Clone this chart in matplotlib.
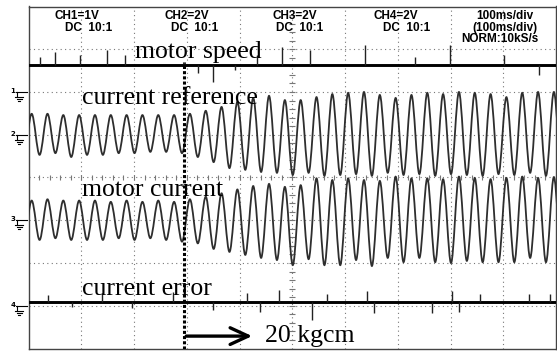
import numpy as np
import matplotlib.pyplot as plt
from matplotlib.path import Path
from matplotlib.patches import PathPatch
from matplotlib.lines import Line2D

# scope screen: 10 div x 100 ms/div, 8 div high, trace values in div
step_ms = 295  # load step (20 kgcm)

peak_ms = [6, 36, 66, 96, 126, 156, 186, 216, 246, 276, 306, 336, 366, 396, 426, 456, 486,
           516, 546, 576, 606, 636, 666, 696, 726, 756, 786, 816, 846, 876, 906, 936, 966, 996]
trough_ms = [-9, 21, 51, 81, 111, 141, 171, 201, 231, 261, 291, 321, 351, 381, 411, 441, 471, 501,
             531, 561, 591, 621, 651, 681, 711, 741, 771, 801, 831, 861, 891, 921, 951, 981, 1011]

# CH2 current reference
ref_peak = [1.49, 1.49, 1.46, 1.46, 1.46, 1.46, 1.46, 1.46, 1.46, 1.46,
            1.49, 1.56, 1.65, 1.77, 1.86, 1.91, 1.81, 1.81, 1.88, 1.95,
            1.98, 2.00, 1.93, 1.86, 1.93, 1.98, 1.95, 2.00, 1.98, 1.95,
            1.88, 1.98, 2.00, 2.00]
ref_trough = [0.53, 0.53, 0.57, 0.48, 0.53, 0.53, 0.57, 0.57, 0.60, 0.60, 0.57,
              0.48, 0.36, 0.22, 0.18, 0.13, 0.11, 0.06, 0.11, 0.04, 0.06,
              0.08, 0.04, 0.11, 0.06, 0.08, 0.04, 0.08, 0.06, 0.04, 0.08,
              0.06, 0.11, 0.04, 0.06]

# CH3 motor current
cur_peak = [-0.54, -0.51, -0.54, -0.54, -0.54, -0.57, -0.54, -0.57, -0.54, -0.57,
            -0.51, -0.45, -0.37, -0.28, -0.20, -0.15, -0.22, -0.18, -0.02, -0.06,
            -0.02, -0.06, -0.08, 0.02, -0.02, -0.02, -0.04, 0.02, -0.01, -0.04,
            -0.01, 0.02, -0.01, 0.01]
cur_trough = [-1.46, -1.46, -1.42, -1.46, -1.46, -1.46, -1.42, -1.46, -1.42, -1.46, -1.50,
              -1.54, -1.67, -1.74, -1.81, -1.88, -1.93, -2.05, -1.91, -2.05, -2.05,
              -1.93, -2.07, -1.88, -1.98, -1.88, -1.98, -2.00, -1.95, -1.98, -1.98,
              -1.98, -1.88, -1.98, -1.98]

# CH1 motor speed, CH4 current error (flat + spikes)
speed_level = 2.63
speed_spike_ms = [22, 50, 98, 149, 183, 321, 350, 391, 433, 480, 534, 638, 733, 799, 901, 968]
speed_spike = [0.19, 0.30, 0.23, 0.35, 0.23, -0.19, -0.40, -0.12, 0.23, 0.42, 0.35, 0.47,
               0.19, 0.47, 0.23, -0.23]
err_level = -2.92
err_spike_ms = [37, 82, 139, 196, 274, 350, 414, 439, 475, 537, 566, 642, 655, 765, 803, 816,
                856, 949, 989]
err_spike = [0.16, -0.12, 0.21, -0.14, 0.23, -0.19, 0.21, -0.23, 0.30, -0.42, 0.19, 0.26,
             -0.26, -0.26, 0.26, -0.23, 0.19, 0.19, 0.19]

ground_level = [2, 1, -1, -3]
ground_name = ['1', '2', '3', '4']

header_top = ['CH1=1V', 'CH2=2V', 'CH3=2V', 'CH4=2V', '100ms/div']
header_top_x = [77, 187, 295, 396, 505]
header_mid = ['DC  10:1', 'DC  10:1', 'DC  10:1', 'DC  10:1', '(100ms/div)']
header_mid_x = [89, 195, 300, 407, 505]

W, H = 557, 351
fig = plt.figure(figsize=(W / 100, H / 100), dpi=100)
x0, x1, y0, y1 = 28.5, 556, 6.5, 348.5
ax = fig.add_axes([x0 / W, 1 - y1 / H, (x1 - x0) / W, (y1 - y0) / H])
ax.set_xlim(0, 1000)
ax.set_ylim(-4, 4)
ax.set_xticks([])
ax.set_yticks([])
for s in ax.spines.values():
    s.set_color('#444444')
    s.set_linewidth(1.0)

# graticule
grid_kw = dict(color='#777777', lw=0.8, ls=(0, (1, 3)), zorder=1)
for t in range(100, 1000, 100):
    ax.axvline(t, **grid_kw)
for v in range(-3, 4):
    ax.axhline(v, **grid_kw)
ax.vlines(np.arange(0, 1001, 20), -0.06, 0.06, color='#777777', lw=0.8, zorder=1)
ax.hlines(np.arange(-4, 4.01, 0.2), 494, 506, color='#777777', lw=0.8, zorder=1)


def wave_path(pk_t, pk_v, tr_t, tr_v):
    pts = []
    for i in range(len(pk_t)):
        pts.append((tr_t[i], tr_v[i]))
        pts.append((pk_t[i], pk_v[i]))
    pts.append((tr_t[-1], tr_v[-1]))
    verts = [pts[0]]
    codes = [Path.MOVETO]
    for (ta, va), (tb, vb) in zip(pts[:-1], pts[1:]):
        h = 0.34 * (tb - ta)
        verts += [(ta + h, va), (tb - h, vb), (tb, vb)]
        codes += [Path.CURVE4] * 3
    return Path(verts, codes)


for pk, tr in [(ref_peak, ref_trough), (cur_peak, cur_trough)]:
    p = PathPatch(wave_path(peak_ms, pk, trough_ms, tr), fill=False,
                  edgecolor='#2e2e2e', lw=1.3, zorder=3)
    ax.add_patch(p)

for lev, st, sv in [(speed_level, speed_spike_ms, speed_spike),
                    (err_level, err_spike_ms, err_spike)]:
    ax.axhline(lev, color='black', lw=2.1, zorder=3)
    ax.vlines(st, lev, lev + np.array(sv), color='#222222', lw=1.0, zorder=3)

# load step marker
ax.vlines(step_ms, -4, 2.70, color='black', lw=2.2, linestyles=[(0, (1, 0.7))],
          capstyle='butt', zorder=5)
ax.annotate('', xy=(424, -3.71), xytext=(step_ms + 4, -3.71),
            arrowprops=dict(arrowstyle='->, head_length=1.3, head_width=0.6',
                            mutation_scale=10, lw=2.4, color='black', shrinkA=0, shrinkB=0),
            zorder=6)

serif = dict(family='Liberation Serif', fontsize=18.5, color='black', va='baseline', zorder=7)
ax.text(202, 2.80, 'motor speed', **serif)
ax.text(101, 1.72, 'current reference', **serif)
ax.text(101, -0.43, 'motor current', **serif)
ax.text(101, -2.76, 'current error', **serif)
ax.text(448, -3.85, '20 kgcm', **serif)

# header
hdr = dict(family='Liberation Sans', fontweight='bold', fontsize=8.5, ha='center', va='baseline')
for txt, x in zip(header_top, header_top_x):
    fig.text(x / W, 1 - 19.3 / H, txt, **hdr)
for txt, x in zip(header_mid, header_mid_x):
    fig.text(x / W, 1 - 31 / H, txt, **hdr)
fig.text(500 / W, 1 - 41.7 / H, 'NORM:10kS/s', **hdr)

# channel ground markers
for lev, name in zip(ground_level, ground_name):
    yp = 177.5 - lev * 42.75
    fig.text(13 / W, 1 - (yp + 1) / H, name, fontsize=5, fontweight='bold', ha='center',
             va='baseline')
    segs = [((16, 27), (yp, yp)), ((17, 17), (yp, yp + 5)), ((15, 23), (yp + 5, yp + 5)),
            ((16.5, 21.5), (yp + 7, yp + 7)), ((18, 20), (yp + 9, yp + 9))]
    for xs, ys in segs:
        fig.add_artist(Line2D([x / W for x in xs], [1 - y / H for y in ys],
                              color='black', lw=0.8))

fig.savefig('out.png', dpi=100)
